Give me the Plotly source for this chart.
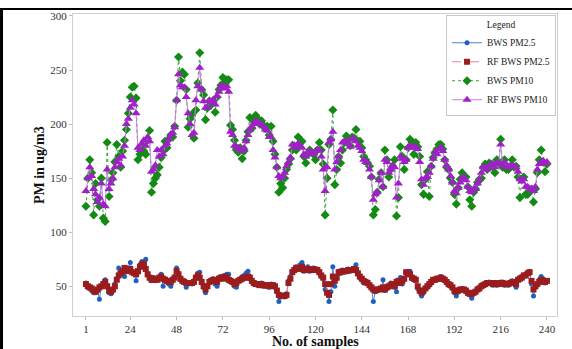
import plotly.graph_objects as go

samples = list(range(1, 241))
x_ticks = [1, 24, 48, 72, 96, 120, 144, 168, 192, 216, 240]
y_ticks = [50, 100, 150, 200, 250, 300]

bws_pm25 = [
    53, 49, 48, 46, 44, 44, 46, 38, 50, 53,
    56, 51, 44, 43, 46, 52, 57, 67, 62, 63,
    59, 66, 67, 72, 64, 62, 55, 63, 70, 73,
    72, 75, 62, 57, 55, 58, 55, 56, 58, 61,
    50, 57, 54, 52, 50, 57, 59, 67, 62, 56,
    54, 55, 49, 52, 53, 52, 55, 58, 62, 63,
    53, 49, 44, 50, 55, 56, 57, 52, 50, 58,
    59, 57, 60, 61, 61, 56, 53, 50, 49, 56,
    57, 59, 60, 62, 64, 57, 54, 52, 53, 51,
    51, 53, 50, 50, 50, 49, 52, 51, 49, 45,
    36, 40, 42, 40, 43, 55, 59, 64, 66, 68,
    66, 70, 72, 64, 66, 68, 64, 66, 67, 66,
    66, 62, 59, 57, 47, 44, 36, 45, 68, 50,
    57, 64, 62, 65, 63, 65, 66, 64, 66, 67,
    70, 61, 58, 56, 53, 54, 52, 50, 48, 36,
    45, 46, 48, 47, 56, 46, 48, 49, 53, 52,
    49, 45, 53, 58, 52, 56, 62, 64, 64, 57,
    56, 55, 48, 45, 41, 44, 48, 49, 51, 53,
    55, 57, 56, 58, 59, 56, 55, 53, 51, 50,
    48, 44, 41, 45, 46, 48, 47, 45, 43, 42,
    39, 43, 45, 48, 49, 51, 51, 53, 52, 54,
    53, 51, 52, 51, 53, 54, 54, 51, 53, 51,
    52, 55, 52, 49, 56, 58, 59, 60, 61, 62,
    64, 52, 41, 49, 52, 56, 59, 57, 53, 55,
]

rf_bws_pm25 = [
    52, 50, 49, 48, 46, 45, 47, 49, 50, 52,
    54, 50, 46, 45, 47, 50, 56, 60, 62, 64,
    67, 64, 65, 66, 63, 62, 61, 64, 68, 70,
    71, 66, 61, 58, 56, 57, 56, 56, 58, 59,
    57, 56, 55, 54, 54, 56, 58, 64, 61, 57,
    55, 54, 53, 53, 53, 53, 54, 58, 60, 58,
    54, 50, 47, 50, 54, 55, 56, 55, 54, 57,
    58, 57, 59, 58, 56, 55, 54, 52, 53, 55,
    56, 57, 58, 58, 59, 58, 55, 53, 52, 52,
    51, 52, 51, 51, 51, 50, 51, 51, 50, 46,
    42, 41, 41, 41, 42, 53, 57, 63, 65, 67,
    66, 67, 68, 65, 65, 66, 65, 65, 66, 65,
    65, 63, 60, 58, 52, 44, 42, 52, 59, 55,
    58, 63, 63, 64, 64, 64, 65, 65, 65, 66,
    65, 62, 59, 57, 55, 54, 53, 51, 49, 47,
    46, 47, 47, 48, 49, 47, 49, 50, 51, 52,
    50, 54, 55, 53, 55, 57, 63, 62, 61, 58,
    57, 56, 50, 46, 44, 46, 48, 50, 52, 54,
    56, 56, 57, 57, 58, 57, 56, 54, 52, 51,
    49, 46, 45, 46, 47, 47, 47, 46, 44, 43,
    43, 44, 45, 47, 48, 50, 51, 52, 53, 53,
    53, 52, 53, 52, 52, 53, 53, 52, 52, 52,
    53, 54, 53, 52, 56, 57, 58, 60, 60, 62,
    63, 55, 47, 50, 52, 54, 56, 55, 54, 55,
]

bws_pm10 = [
    124, 150, 167, 155, 116, 145, 130, 124, 150, 113,
    110, 183, 133, 148, 155, 165, 181, 170, 160, 175,
    185, 195, 210, 225, 234, 235, 224, 167, 172, 180,
    175, 172, 185, 194, 137, 145, 150, 153, 160, 169,
    175, 184, 178, 186, 190, 188, 198, 222, 262, 240,
    248, 246, 232, 197, 205, 209, 187, 213, 238, 266,
    232, 227, 204, 215, 221, 218, 222, 211, 225, 232,
    236, 243, 238, 241, 241, 199, 195, 185, 176, 174,
    178, 168, 175, 185, 193, 206, 196, 203, 208, 205,
    200, 203, 199, 196, 198, 190, 198, 184, 172, 160,
    137, 145, 141, 150, 158, 163, 168, 176, 180, 176,
    188, 182, 184, 170, 164, 172, 176, 174, 172, 167,
    176, 183, 176, 163, 116, 150, 181, 186, 213, 144,
    158, 170, 164, 176, 183, 189, 184, 180, 188, 187,
    195, 184, 184, 178, 170, 167, 164, 161, 151, 116,
    121, 137, 149, 155, 142, 176, 167, 151, 158, 161,
    167, 115, 132, 179, 170, 158, 167, 178, 186, 183,
    172, 183, 179, 170, 144, 135, 149, 156, 133, 161,
    169, 174, 177, 181, 181, 177, 167, 160, 158, 150,
    146, 135, 126, 141, 149, 155, 151, 151, 142, 130,
    124, 137, 140, 146, 149, 150, 160, 163, 158, 164,
    163, 160, 155, 167, 164, 186, 160, 167, 158, 158,
    161, 167, 160, 161, 151, 132, 149, 151, 135, 135,
    137, 140, 128, 140, 155, 167, 176, 165, 156, 163,
]

rf_bws_pm10 = [
    138, 150, 160, 152, 140, 135, 128, 132, 145, 126,
    124, 158, 140, 145, 150, 160, 165, 168, 162, 170,
    180, 200, 205, 215, 222, 218, 210, 178, 176, 182,
    185, 180, 188, 184, 156, 158, 162, 176, 170, 176,
    172, 180, 182, 186, 190, 192, 197, 222, 246, 236,
    234, 234, 225, 210, 200, 190, 192, 222, 235, 252,
    232, 221, 215, 215, 222, 220, 222, 218, 226, 230,
    235, 235, 233, 235, 230, 193, 190, 180, 179, 178,
    176, 175, 178, 184, 190, 195, 198, 200, 203, 202,
    200, 200, 198, 195, 194, 188, 188, 176, 169, 160,
    152, 150, 152, 155, 161, 165, 169, 181, 178, 179,
    182, 180, 178, 172, 170, 174, 174, 174, 172, 175,
    176, 176, 170, 158, 138, 160, 183, 186, 193, 158,
    165, 170, 176, 183, 184, 184, 182, 179, 187, 186,
    184, 180, 178, 175, 167, 165, 164, 158, 151, 130,
    135, 137, 148, 155, 142, 167, 165, 155, 158, 162,
    160, 132, 145, 170, 168, 165, 167, 178, 180, 179,
    178, 179, 177, 165, 149, 144, 150, 151, 155, 161,
    168, 174, 172, 177, 178, 175, 167, 162, 158, 152,
    146, 138, 136, 141, 146, 150, 151, 148, 142, 138,
    137, 140, 140, 145, 149, 155, 160, 160, 158, 160,
    163, 163, 160, 164, 164, 181, 162, 165, 160, 160,
    161, 162, 160, 160, 156, 149, 147, 149, 142, 142,
    140, 140, 138, 142, 158, 163, 165, 166, 163, 165,
]

serif = "Liberation Serif, Times New Roman, serif"

fig = go.Figure()
fig.add_trace(go.Scatter(
    x=samples, y=bws_pm25, name="BWS PM2.5", mode="lines+markers",
    line=dict(color="#4a86d8", width=1),
    marker=dict(symbol="circle", size=5, color="#1f5fc4"),
))
fig.add_trace(go.Scatter(
    x=samples, y=rf_bws_pm25, name="RF BWS PM2.5", mode="lines+markers",
    line=dict(color="#e08a8a", width=1, dash="dash"),
    marker=dict(symbol="square", size=6, color="#9b1c1c"),
))
fig.add_trace(go.Scatter(
    x=samples, y=bws_pm10, name="BWS PM10", mode="lines+markers",
    line=dict(color="#3aa03a", width=1, dash="dot"),
    marker=dict(symbol="diamond", size=7, color="#138a13"),
))
fig.add_trace(go.Scatter(
    x=samples, y=rf_bws_pm10, name="RF BWS PM10", mode="lines+markers",
    line=dict(color="#c77fe0", width=1),
    marker=dict(symbol="triangle-up", size=8, color="#a020c8"),
))

axis_common = dict(
    showgrid=False, zeroline=False, showline=True, mirror=True,
    linecolor="#cfcfcf", linewidth=1,
    ticks="outside", ticklen=3, tickcolor="#bdbdbd",
    tickfont=dict(family=serif, size=11, color="#333333"),
    automargin=False,
)

fig.update_layout(
    width=572, height=349,
    margin=dict(l=73, r=15, t=14, b=33),
    paper_bgcolor="white", plot_bgcolor="white",
    font=dict(family=serif),
    xaxis=dict(
        range=[-5.7, 245.2], tickmode="array", tickvals=x_ticks,
        ticktext=[str(t) for t in x_ticks],
        **axis_common,
    ),
    yaxis=dict(
        range=[22.5, 301.8], tickmode="array", tickvals=y_ticks,
        **axis_common,
    ),
    legend=dict(
        x=0.998, y=0.997, xanchor="right", yanchor="top",
        bordercolor="#c8c8c8", borderwidth=1, bgcolor="white",
        font=dict(family=serif, size=9.5, color="#222"),
        title=dict(text="Legend", side="top center", font=dict(family=serif, size=9.5, color="#222")),
        tracegroupgap=0, itemwidth=30,
    ),
    showlegend=True,
    annotations=[
        dict(text="<b>No. of samples</b>", xref="paper", yref="paper",
             x=0.5, y=-0.083, xanchor="center", yanchor="middle", showarrow=False,
             font=dict(family=serif, size=14, color="#111")),
        dict(text="<b>PM in ug/m3</b>", xref="paper", yref="paper",
             x=-0.07, y=0.5, xanchor="center", yanchor="middle", showarrow=False,
             textangle=-90, font=dict(family=serif, size=14, color="#111")),
    ],
)

# outer black frame lines of the original picture
fig.add_shape(type="line", xref="paper", yref="paper",
              x0=-0.16, x1=1.04, y0=1.0166, y1=1.0166,
              line=dict(color="black", width=2))
fig.add_shape(type="line", xref="paper", yref="paper",
              x0=-0.1477, x1=-0.1477, y0=1.02, y1=-0.12,
              line=dict(color="black", width=3))

fig.write_html("out.html")
